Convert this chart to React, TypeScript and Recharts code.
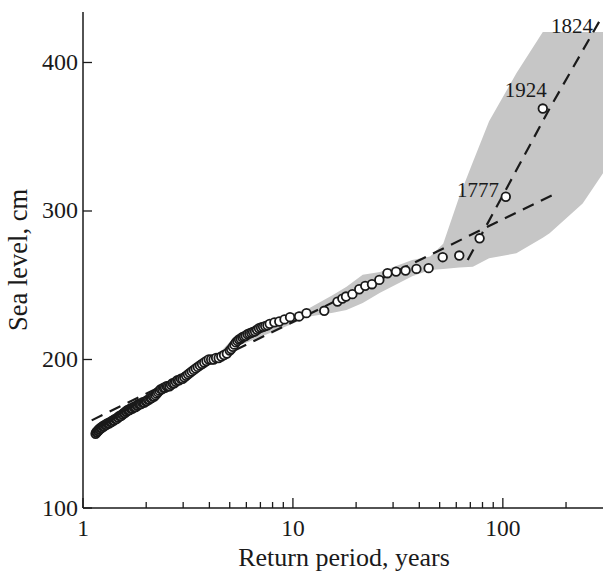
import {
  ComposedChart,
  Area,
  Line,
  Scatter,
  XAxis,
  YAxis,
  ReferenceDot,
} from 'recharts'

// observed annual maxima: return period (years) and sea level (cm)
const OBS_T = [
  1.148, 1.157, 1.165, 1.174, 1.183, 1.192, 1.202, 1.211, 1.22, 1.23, 1.24, 1.25, 1.26, 1.27,
  1.281, 1.292, 1.303, 1.314, 1.325, 1.336, 1.348, 1.36, 1.372, 1.384, 1.396, 1.409, 1.422,
  1.435, 1.449, 1.462, 1.476, 1.49, 1.505, 1.52, 1.535, 1.55, 1.566, 1.582, 1.598, 1.615,
  1.632, 1.649, 1.667, 1.685, 1.703, 1.722, 1.742, 1.761, 1.782, 1.802, 1.824, 1.845, 1.867,
  1.89, 1.914, 1.938, 1.962, 1.987, 2.013, 2.039, 2.067, 2.095, 2.123, 2.153, 2.183, 2.214,
  2.246, 2.279, 2.313, 2.348, 2.385, 2.422, 2.46, 2.5, 2.541, 2.583, 2.627, 2.672, 2.719,
  2.768, 2.818, 2.87, 2.925, 2.981, 3.039, 3.1, 3.163, 3.229, 3.298, 3.37, 3.444, 3.523,
  3.605, 3.69, 3.78, 3.875, 3.974, 4.079, 4.189, 4.306, 4.429, 4.559, 4.697, 4.844, 5.0,
  5.08, 5.17, 5.26, 5.35, 5.44, 5.54, 5.64, 5.74, 5.85, 5.96, 6.08, 6.2, 6.33, 6.46, 6.6,
  6.74, 6.89, 7.05, 7.21, 7.38, 7.56, 7.75, 8.16, 8.61, 9.12, 9.69, 10.7, 11.6, 14.1, 16.3,
  17.2, 17.9, 19.2, 20.7, 22.1, 23.8, 25.8, 28.2, 31, 34.4, 38.75, 44.3, 51.7, 62, 77.5,
  103.3, 155,
]
const OBS_LEVEL = [
  150, 151, 151, 152, 152, 153, 153, 154, 154, 154, 155, 155, 155, 156,
  156, 156, 157, 157, 157, 157, 158, 158, 158, 159, 159, 159, 160,
  160, 160, 161, 161, 162, 162, 162, 163, 163, 164, 164, 165, 165,
  166, 166, 166, 167, 167, 167, 168, 168, 168, 169, 169, 170, 170,
  170, 171, 171, 171, 172, 172, 173, 173, 174, 174, 175, 175, 176,
  177, 178, 179, 180, 180, 181, 181, 182, 182, 182, 183, 184, 184,
  185, 186, 186, 187, 187, 188, 189, 190, 191, 192, 193, 194, 195,
  196, 197, 198, 199, 200, 200, 200, 201, 201, 202, 203, 204, 206,
  207, 208.5, 210, 211.5, 212.5, 213.5, 214, 215, 215.5, 216, 217, 217.5, 218, 218.5, 219,
  220, 221, 221.5, 222, 222.5, 223, 224, 225, 225.6, 227, 228.5, 229, 231.2, 232.8, 239,
  241, 242.4, 244, 247.3, 249.6, 250.7, 253.6, 258.1, 259.2, 259.9, 261, 261.5, 268.9, 270, 281.6,
  309.6, 369,
]

// confidence band
const BAND_T = [4.3, 5.4, 8.5, 12, 15.5, 18, 21.5, 26, 37, 45, 52, 62, 72, 86, 116, 155, 167, 240, 300]
const BAND_LOW = [201, 208.7, 220, 229, 231.5, 233.4, 238, 245, 256, 260.3, 261, 262, 262.5, 268.2, 271.5, 282, 285, 305, 325.5]
const BAND_HIGH = [202, 216.6, 228, 234.6, 243.5, 249, 257, 259, 267, 269.3, 278, 309.6, 333, 360.5, 392.7, 420.6, 420.6, 420.6, 420.6]

// fitted curves
const FIT_T = [1.1, 10, 100, 183]
const FIT_LEVEL = [159, 225.3, 294.4, 312.5]
const STEEP_T = [68, 104, 167, 300]
const STEEP_LEVEL = [267, 315, 369, 432]

const ANNOT_YEAR = ['1824', '1924', '1777']
const ANNOT_T = [310, 155, 103.3]
const ANNOT_LEVEL = [430, 369, 309.6]
const ANNOT_OFFSET = [
  [-13, 15],
  [4, -11.6],
  [-6.7, 0],
]

const X_TICKS = [1, 2, 3, 4, 5, 6, 7, 8, 9, 10, 20, 30, 40, 50, 60, 70, 80, 90, 100, 200]
const X_LABELED = [1, 10, 100]
const Y_TICKS = [100, 200, 300, 400]

const FONT = "'Liberation Serif', 'Times New Roman', serif"
const INK = '#1a1a1a'

const obs = OBS_T.map((T, i) => ({ T, v: OBS_LEVEL[i] }))
const band = BAND_T.map((T, i) => ({ T, lo: BAND_LOW[i], hi: BAND_HIGH[i] }))
const fit = FIT_T.map((T, i) => ({ T, v: FIT_LEVEL[i] }))
const steep = STEEP_T.map((T, i) => ({ T, v: STEEP_LEVEL[i] }))

function XTick(props: any) {
  const { x, y, payload } = props
  const major = X_LABELED.includes(payload.value)
  return (
    <g>
      <line x1={x} y1={y} x2={x} y2={y - (major ? 10 : 6)} stroke={INK} strokeWidth={1.3} />
      {major && (
        <text x={x} y={y + 28} textAnchor="middle" fontFamily={FONT} fontSize={23.5} fill={INK}>
          {payload.value}
        </text>
      )}
    </g>
  )
}

function YTick(props: any) {
  const { x, y, payload } = props
  return (
    <g>
      <line x1={x} y1={y} x2={x + 9} y2={y} stroke={INK} strokeWidth={1.3} />
      <text x={x - 5} y={y + 7.5} textAnchor="end" fontFamily={FONT} fontSize={24} fill={INK}>
        {payload.value}
      </text>
    </g>
  )
}

const Dot = (p: any) => (
  <circle cx={p.cx} cy={p.cy} r={4.3} fill="#fff" stroke={INK} strokeWidth={1.8} />
)

export default function App() {
  return (
    <div style={{ position: 'absolute', left: 0, top: 0, width: 603, height: 574, background: '#fff' }}>
      <ComposedChart width={603} height={574} data={band} margin={{ top: 12, right: 0, bottom: 0, left: 0 }}>
        <XAxis
          dataKey="T"
          type="number"
          scale="log"
          domain={[1, 300]}
          allowDataOverflow
          ticks={X_TICKS}
          interval={0}
          height={66}
          tickSize={0}
          tickMargin={0}
          tickLine={false}
          tick={XTick}
          axisLine={{ stroke: INK, strokeWidth: 1.5 }}
          label={{
            content: () => (
              <text x={344} y={566} textAnchor="middle" fontFamily={FONT} fontSize={26} fill={INK}>
                Return period, years
              </text>
            ),
          }}
        />
        <YAxis
          dataKey="v"
          type="number"
          domain={[100, 434]}
          allowDataOverflow
          ticks={Y_TICKS}
          interval={0}
          width={83}
          tickSize={0}
          tickMargin={0}
          tickLine={false}
          tick={YTick}
          axisLine={{ stroke: INK, strokeWidth: 1.5 }}
          label={{
            content: () => (
              <text
                x={27}
                y={260}
                transform="rotate(-90 27 260)"
                textAnchor="middle"
                fontFamily={FONT}
                fontSize={26.5}
                fill={INK}
              >
                Sea level, cm
              </text>
            ),
          }}
        />
        <Area
          dataKey={(d: any) => [d.lo, d.hi]}
          type="linear"
          stroke="none"
          fill="#c6c6c6"
          fillOpacity={1}
          isAnimationActive={false}
        />
        <Line
          data={fit}
          dataKey="v"
          type="linear"
          stroke={INK}
          strokeWidth={2.2}
          strokeDasharray="12 8"
          dot={false}
          activeDot={false}
          isAnimationActive={false}
        />
        <Line
          data={steep}
          dataKey="v"
          type="linear"
          stroke={INK}
          strokeWidth={2.2}
          strokeDasharray="12 8"
          dot={false}
          activeDot={false}
          isAnimationActive={false}
        />
        <Scatter data={obs} dataKey="v" shape={Dot} isAnimationActive={false} />
        {ANNOT_YEAR.map((year, i) => (
          <ReferenceDot
            key={year}
            x={ANNOT_T[i]}
            y={ANNOT_LEVEL[i]}
            r={0}
            stroke="none"
            fill="none"
            ifOverflow="visible"
            label={{
              content: (p: any) => {
                const vb = p.viewBox || {}
                const cx = (vb.x ?? 0) + (vb.width ?? 0) / 2
                const cy = (vb.y ?? 0) + (vb.height ?? 0) / 2
                return (
                  <text
                    x={cx + ANNOT_OFFSET[i][0]}
                    y={cy + ANNOT_OFFSET[i][1]}
                    textAnchor="end"
                    fontFamily={FONT}
                    fontSize={21}
                    fill={INK}
                  >
                    {year}
                  </text>
                )
              },
            }}
          />
        ))}
      </ComposedChart>
    </div>
  )
}
